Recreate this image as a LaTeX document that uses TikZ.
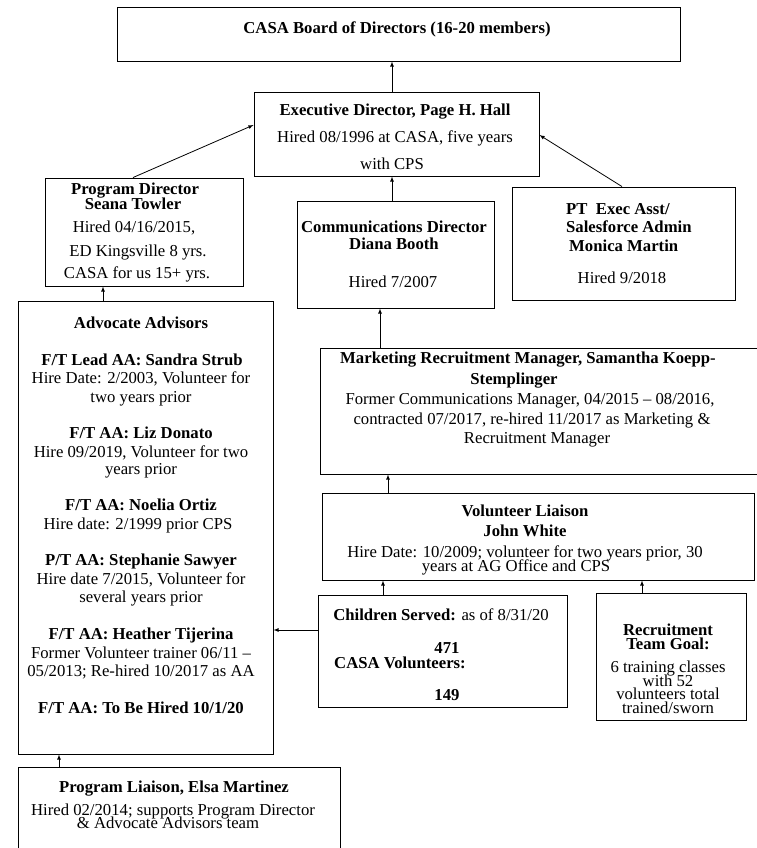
\documentclass[tikz,border=0pt]{standalone}
\usepackage{fontspec}
\setmainfont{Liberation Serif}
\usetikzlibrary{arrows}
\newcommand\orgsz{\fontsize{16.7}{19}\selectfont}

\begin{document}
\begin{tikzpicture}[x=1pt,y=-1pt]
\tikzstyle{every node}=[inner sep=0pt]
\tikzstyle{box}=[draw, line width=.9pt]
\tikzstyle{txt}=[anchor=base, font=\orgsz]
\tikzstyle{ltxt}=[anchor=base west, font=\orgsz]
\tikzstyle{link}=[-latex, line width=.8pt]
\useasboundingbox (0,0) rectangle (757,848);
\clip (0,0) rectangle (757,848);
% boxes
\draw (398.5,34) node (bod) [box, minimum width=563pt, minimum height=54pt] {};
\draw (396.5,134) node (ed) [box, minimum width=285pt, minimum height=84pt] {};
\draw (144,232) node (pd) [box, minimum width=198pt, minimum height=108pt] {};
\draw (395.5,254.5) node (cd) [box, minimum width=197pt, minimum height=107pt] {};
\draw (623.5,243.5) node (pt) [box, minimum width=223pt, minimum height=113pt] {};
\draw (545,411) node (mk) [box, minimum width=450pt, minimum height=126pt] {};
\draw (538,536.5) node (vl) [box, minimum width=432pt, minimum height=87pt] {};
\draw (442.5,651) node (cs) [box, minimum width=249pt, minimum height=112pt] {};
\draw (671,656.5) node (rt) [box, minimum width=150pt, minimum height=127pt] {};
\draw (145.5,527.5) node (aa) [box, minimum width=255pt, minimum height=453pt] {};
\draw (179,823.5) node (pl) [box, minimum width=322pt, minimum height=113pt] {};
% board and director
\draw (397,33.5) node (bod1) [txt] {\bfseries CASA Board of Directors (16-20 members)};
\draw (395,115.5) node (ed1) [txt] {\bfseries Executive Director, Page H. Hall};
\draw (395,142.5) node (ed2) [txt] {Hired 08/1996 at CASA, five years};
\draw (392,169.5) node (ed3) [txt] {with CPS};
% program director
\draw (135,194) node (pd1) [txt] {\bfseries Program Director};
\draw (133,209) node (pd2) [txt] {\bfseries Seana Towler};
\draw (134,232.5) node (pd3) [txt] {Hired 04/16/2015,};
\draw (138,256) node (pd4) [txt] {ED Kingsville 8 yrs.};
\draw (137,278.5) node (pd5) [txt] {CASA for us 15+ yrs.};
% communications director
\draw (394,232.5) node (cd1) [txt] {\bfseries Communications Director};
\draw (394,249.5) node (cd2) [txt] {\bfseries Diana Booth};
\draw (393,287.5) node (cd3) [txt] {Hired 7/2007};
% assistant
\draw (566,214.5) node (pt1) [ltxt] {\bfseries PT\ \ Exec Asst/};
\draw (566,232.5) node (pt2) [ltxt] {\bfseries Salesforce Admin};
\draw (569,251.5) node (pt3) [ltxt] {\bfseries Monica Martin};
\draw (622,283.5) node (pt4) [txt] {Hired 9/2018};
% advocate advisors
\draw (141,328.5) node (aa1) [txt] {\bfseries Advocate Advisors};
\draw (142,365.5) node (aa2) [txt] {\bfseries F/T Lead AA: Sandra Strub};
\draw (141,383.5) node (aa3) [txt] {Hire Date: 2/2003, Volunteer for};
\draw (141,402.5) node (aa4) [txt] {two years prior};
\draw (141,438.5) node (aa5) [txt] {\bfseries F/T AA: Liz Donato};
\draw (141,457.5) node (aa6) [txt] {Hire 09/2019, Volunteer for two};
\draw (141,474.5) node (aa7) [txt] {years prior};
\draw (141,510.5) node (aa8) [txt] {\bfseries F/T AA: Noelia Ortiz};
\draw (138,529.5) node (aa9) [txt] {Hire date: 2/1999 prior CPS};
\draw (141,565.5) node (aa10) [txt] {\bfseries P/T AA: Stephanie Sawyer};
\draw (141,584.5) node (aa11) [txt] {Hire date 7/2015, Volunteer for};
\draw (141,602.5) node (aa12) [txt] {several years prior};
\draw (141,639.5) node (aa13) [txt] {\bfseries F/T AA: Heather Tijerina};
\draw (141,658.5) node (aa14) [txt] {Former Volunteer trainer 06/11 --};
\draw (141,676.5) node (aa15) [txt] {05/2013; Re-hired 10/2017 as AA};
\draw (141,713.5) node (aa16) [txt] {\bfseries F/T AA: To Be Hired 10/1/20};
% marketing
\draw (528,363.5) node (mk1) [txt] {\bfseries Marketing Recruitment Manager, Samantha Koepp-};
\draw (514,384.5) node (mk2) [txt] {\bfseries Stemplinger};
\draw (530,404.5) node (mk3) [txt] {Former Communications Manager, 04/2015 -- 08/2016,};
\draw (532,424.5) node (mk4) [txt] {contracted 07/2017, re-hired 11/2017 as Marketing \&};
\draw (537,443.5) node (mk5) [txt] {Recruitment Manager};
% volunteer liaison
\draw (525,516.5) node (vl1) [txt] {\bfseries Volunteer Liaison};
\draw (525,536.5) node (vl2) [txt] {\bfseries John White};
\draw (525,557.5) node (vl3) [txt] {Hire Date: 10/2009; volunteer for two years prior, 30};
\draw (516,571.5) node (vl4) [txt] {years at AG Office and CPS};
% counts
\draw (441,620.5) node (cs1) [txt] {\textbf{Children Served:} as of 8/31/20};
\draw (447,653.5) node (cs2) [txt] {\bfseries 471};
\draw (334,668.5) node (cs3) [ltxt] {\bfseries CASA Volunteers:};
\draw (447,700.5) node (cs4) [txt] {\bfseries 149};
% recruitment goal
\draw (668,635.5) node (rt1) [txt] {\bfseries Recruitment};
\draw (668,649.5) node (rt2) [txt] {\bfseries Team Goal:};
\draw (668,672.5) node (rt3) [txt] {6 training classes};
\draw (668,686.5) node (rt4) [txt] {with 52};
\draw (668,699.5) node (rt5) [txt] {volunteers total};
\draw (668,713.5) node (rt6) [txt] {trained/sworn};
% program liaison
\draw (174,792.5) node (pl1) [txt] {\bfseries Program Liaison, Elsa Martinez};
\draw (173,815.5) node (pl2) [txt] {Hired 02/2014; supports Program Director};
\draw (168,828.5) node (pl3) [txt] {\& Advocate Advisors team};
% reporting lines
\draw[link] ([xshift=-4.5pt]ed.north) -- ([xshift=-6.5pt]bod.south);
\draw[link] ([xshift=-11pt]pd.north) -- ([yshift=9pt]ed.west);
\draw[link] ([xshift=-3.5pt]cd.north) -- ([xshift=-4.5pt]ed.south);
\draw[link] ([xshift=-1.5pt]pt.north) -- ([yshift=-1pt]ed.east);
\draw[link] ([xshift=-42.5pt]aa.north) -- ([xshift=-41pt]pd.south);
\draw[link] ([xshift=-165pt]mk.north) -- ([xshift=-15.5pt]cd.south);
\draw[link] ([xshift=-150pt]vl.north) -- ([xshift=-157pt]mk.south);
\draw[link] ([xshift=-59.5pt]cs.north) -- ([xshift=-155pt]vl.south);
\draw[link] ([xshift=-29pt]rt.north) -- ([xshift=104pt]vl.south);
\draw[link] ([yshift=21pt]cs.west) -- ([yshift=-102.5pt]aa.east);
\draw[link] ([xshift=-120pt]pl.north) -- ([xshift=-86.5pt]aa.south);
\end{tikzpicture}
\end{document}
